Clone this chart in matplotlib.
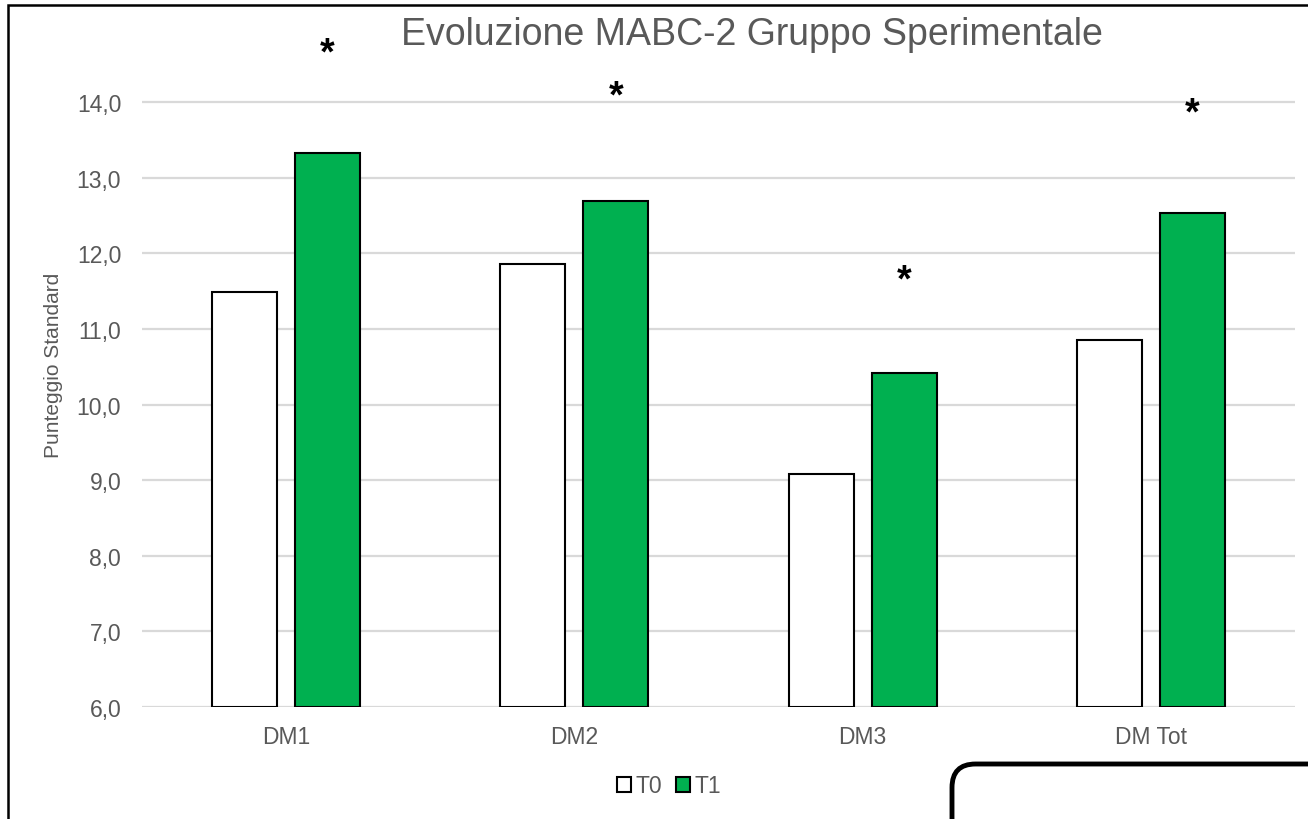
import matplotlib
matplotlib.use("Agg")
import matplotlib.pyplot as plt
import numpy as np
from matplotlib.patches import Rectangle, FancyBboxPatch

plt.rcParams['font.family'] = ['Liberation Sans', 'DejaVu Sans']

categories = ["DM1", "DM2", "DM3", "DM Tot"]
t0_values = [11.49, 11.86, 9.08, 10.85]
t1_values = [13.33, 12.69, 10.42, 12.53]
star_y = [14.64, 14.07, 11.64, 13.85]
series_names = ["T0", "T1"]
yticks = [6, 7, 8, 9, 10, 11, 12, 13, 14]

fig = plt.figure(figsize=(13.08, 8.2), dpi=100)
W, H = 1308, 820
ax = fig.add_axes([142 / W, 1 - 708 / H, (1295 - 142) / W, (708 - 62) / H])

x = np.arange(len(categories))
bw = 0.225
off = 0.144
grey = "#595959"

ax.bar(x - off, np.array(t0_values) - 6, bw, bottom=6, color="white",
       edgecolor="black", linewidth=1.5, label=series_names[0], zorder=3)
ax.bar(x + off, np.array(t1_values) - 6, bw, bottom=6, color="#00B050",
       edgecolor="black", linewidth=1.5, label=series_names[1], zorder=3)

for xi, sy in zip(x, star_y):
    ax.text(xi + off, sy, "*", ha="center", va="center", fontsize=27,
            fontweight="bold", color="black", zorder=4)

ax.set_xlim(-0.5, len(categories) - 0.5)
ax.set_ylim(6, 14 + (708 - 62) / 75.6 - 8)
ax.set_yticks(yticks)
ax.set_yticklabels([f"{v:.1f}".replace(".", ",") for v in yticks])
ax.set_xticks(x)
ax.set_xticklabels(categories)
ax.tick_params(axis="both", length=0, labelsize=16.5, colors=grey)
ax.tick_params(axis="x", pad=13)
ax.tick_params(axis="y", pad=15)
ax.grid(axis="y", color="#D9D9D9", linewidth=1.6, zorder=0)
for s in ax.spines.values():
    s.set_visible(False)
ax.set_facecolor("none")

ax.set_ylabel("Punteggio Standard", fontsize=15, color=grey)
ax.yaxis.set_label_coords(-(142 - 63) / (1295 - 142), (708 - 365) / (708 - 62))

fig.text(752 / W, 1 - 35 / H, "Evoluzione MABC-2 Gruppo Sperimentale",
         ha="center", va="center", fontsize=27, color=grey)

leg = fig.legend(loc="center", bbox_to_anchor=(669 / W, 1 - 787 / H), ncol=2,
                 frameon=False, fontsize=16.5, handlelength=0.6, handleheight=0.6,
                 handletextpad=0.2, columnspacing=0.6)
for t in leg.get_texts():
    t.set_color(grey)

# outer chart border (left/top visible)
fig.patches.append(Rectangle((8 / W, -0.1), 1.2, 1 - 6 / H + 0.1,
                             transform=fig.transFigure, fill=False,
                             edgecolor="black", linewidth=1.8))
# rounded box bottom right
fig.patches.append(FancyBboxPatch((952 / W, -0.2), 0.5, (1 - 765 / H) + 0.2,
                                  boxstyle="round,pad=0,rounding_size=0.018",
                                  transform=fig.transFigure, fill=True,
                                  facecolor="white", edgecolor="black",
                                  linewidth=3.5, mutation_aspect=W / H))

fig.savefig("out.png", dpi=100)
